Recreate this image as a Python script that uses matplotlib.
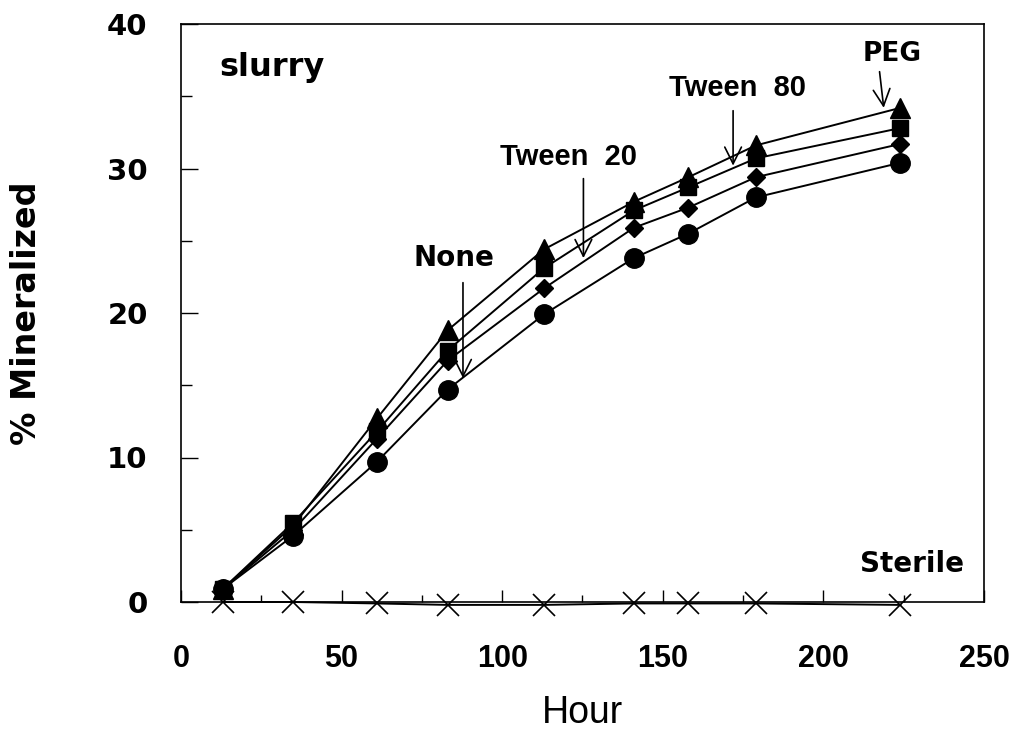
import numpy as np
import matplotlib.pyplot as plt
from matplotlib.ticker import MultipleLocator

# sampling times (hours)
hours = [13, 35, 61, 83, 113, 141, 158, 179, 224]

# % mineralized per treatment
peg = [0.9, 5.3, 12.7, 18.8, 24.4, 27.7, 29.4, 31.6, 34.2]        # triangles
tween80 = [0.9, 5.5, 11.8, 17.4, 23.1, 27.1, 28.7, 30.7, 32.8]    # squares
tween20 = [0.9, 5.0, 11.3, 16.7, 21.7, 25.9, 27.3, 29.4, 31.7]    # diamonds
none = [0.9, 4.6, 9.7, 14.7, 19.9, 23.8, 25.5, 28.0, 30.4]        # circles
sterile = [0.0, 0.0, -0.1, -0.2, -0.2, -0.1, -0.1, -0.1, -0.2]    # crosses

wide = ['DejaVu Sans']
narrow = ['Liberation Sans Narrow', 'Liberation Sans', 'DejaVu Sans']

fig = plt.figure(figsize=(10.15, 7.32), dpi=100)
ax = fig.add_axes([0.1783, 0.1776, 0.7911, 0.7896])

lw = 1.4
ax.plot(hours, none, '-o', color='black', lw=lw, ms=14)
ax.plot(hours, tween20, '-D', color='black', lw=lw, ms=9)
ax.plot(hours, peg, '-^', color='black', lw=lw, ms=14)
ax.plot(hours, tween80, '-s', color='black', lw=lw, ms=12)
ax.plot(hours, sterile, '-x', color='black', lw=lw, ms=16, mew=1.2, clip_on=False)

ax.set_xlim(0, 250)
ax.set_ylim(0, 40)
ax.xaxis.set_major_locator(MultipleLocator(50))
ax.xaxis.set_minor_locator(MultipleLocator(25))
ax.yaxis.set_major_locator(MultipleLocator(10))
ax.yaxis.set_minor_locator(MultipleLocator(5))

ax.tick_params(axis='x', which='both', direction='in', top=False, pad=30)
ax.tick_params(axis='x', which='major', length=9, width=1)
ax.tick_params(axis='x', which='minor', length=5, width=1)
ax.tick_params(axis='y', which='both', direction='in', right=False, pad=24)
ax.tick_params(axis='y', which='major', length=12, width=1)
ax.tick_params(axis='y', which='minor', length=8, width=1)
for sp in ax.spines.values():
    sp.set_linewidth(1.2)

for lab in ax.get_xticklabels():
    lab.set_family(narrow)
    lab.set_fontsize(22)
    lab.set_fontweight('bold')
for lab in ax.get_yticklabels():
    lab.set_family(wide)
    lab.set_fontsize(21)
    lab.set_fontweight('bold')

ax.set_xlabel('Hour', family=narrow, fontsize=27)
ax.xaxis.set_label_coords(0.5, -0.192)
ax.xaxis.label.set_va('center')
ax.set_ylabel('% Mineralized', family=wide, fontsize=24, fontweight='bold')
ax.yaxis.set_label_coords(-0.192, 0.5)
ax.yaxis.label.set_va('center')

# annotations
ax.text(28.4, 37.0, 'slurry', family=wide, fontsize=23, fontweight='bold', ha='center', va='center')
ax.text(85, 23.8, 'None', family=wide, fontsize=20, fontweight='bold', ha='center', va='center')
ax.text(120.6, 30.8, 'Tween  20', family=narrow, fontsize=21, fontweight='bold', ha='center', va='center')
ax.text(173.4, 35.6, 'Tween  80', family=narrow, fontsize=21, fontweight='bold', ha='center', va='center')
ax.text(221.3, 37.9, 'PEG', family=wide, fontsize=19, fontweight='bold', ha='center', va='center')
ax.text(227.5, 2.6, 'Sterile', family=wide, fontsize=20, fontweight='bold', ha='center', va='center')

arrow = dict(arrowstyle='->', lw=1.2, color='black', mutation_scale=30, shrinkA=0, shrinkB=0)
ax.annotate('', xy=(87.8, 15.5), xytext=(87.8, 22.1), arrowprops=arrow)
ax.annotate('', xy=(125.3, 23.8), xytext=(125.3, 29.3), arrowprops=arrow)
ax.annotate('', xy=(171.9, 30.2), xytext=(171.9, 34.0), arrowprops=arrow)
ax.annotate('', xy=(218.8, 34.2), xytext=(217.5, 36.7), arrowprops=arrow)

fig.savefig('out.png', dpi=100)
